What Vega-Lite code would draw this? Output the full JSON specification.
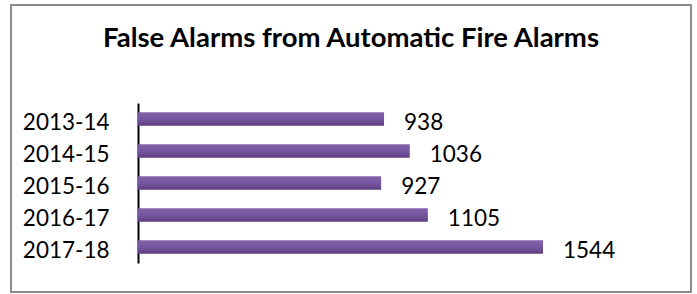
{
  "$schema": "https://vega.github.io/schema/vega-lite/v6.json",
  "autosize": "none",
  "width": 680,
  "height": 287,
  "padding": {"left": 11, "top": 5, "right": 6, "bottom": 2},
  "background": "white",
  "config": {
    "view": {"stroke": "#8c8c8c", "strokeWidth": 2},
    "font": "Lato"
  },
  "title": {
    "text": "False Alarms from Automatic Fire Alarms",
    "font": "Lato",
    "fontSize": 27.5,
    "fontWeight": "bold",
    "color": "black",
    "anchor": "middle",
    "baseline": "alphabetic",
    "offset": -41,
    "dx": 0,
    "dy": 28
  },
  "data": {
    "values": [
      {"year": "2013-14", "alarms": 938},
      {"year": "2014-15", "alarms": 1036},
      {"year": "2015-16", "alarms": 927},
      {"year": "2016-17", "alarms": 1105},
      {"year": "2017-18", "alarms": 1544}
    ]
  },
  "encoding": {
    "y": {
      "field": "year",
      "type": "nominal",
      "sort": null,
      "title": null,
      "scale": {"range": [98, 258], "paddingInner": 0.58, "paddingOuter": 0.29},
      "axis": {
        "offset": -127,
        "domainColor": "black",
        "domainWidth": 2,
        "ticks": false,
        "tickSize": 0,
        "labelPadding": 29,
        "labelFont": "Lato",
        "labelFontSize": 22.5,
        "labelColor": "black",
        "labelOffset": 4
      }
    },
    "x": {
      "field": "alarms",
      "type": "quantitative",
      "title": null,
      "scale": {"domain": [0, 2000], "range": [127, 651.6], "nice": false},
      "axis": null
    }
  },
  "layer": [
    {
      "mark": {
        "type": "bar",
        "fill": {
          "gradient": "linear",
          "x1": 0, "y1": 0, "x2": 0, "y2": 1,
          "stops": [
            {"offset": 0, "color": "#8062ab"},
            {"offset": 0.5, "color": "#7856a2"},
            {"offset": 1, "color": "#5c3f80"}
          ]
        }
      }
    },
    {
      "mark": {
        "type": "text",
        "align": "left",
        "baseline": "middle",
        "dx": 20,
        "dy": 4,
        "font": "Lato",
        "fontSize": 22.5,
        "color": "black"
      },
      "encoding": {"text": {"field": "alarms", "type": "quantitative"}}
    }
  ]
}
